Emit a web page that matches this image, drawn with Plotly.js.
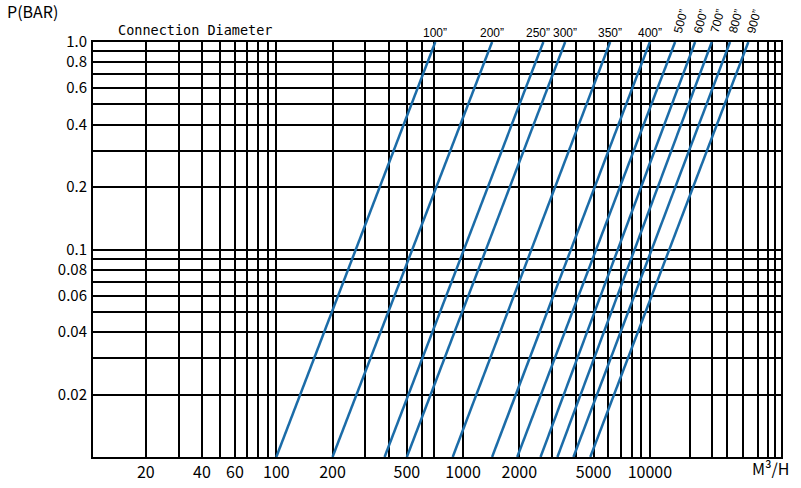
<!DOCTYPE html>
<html>
<head>
<meta charset="utf-8">
<script src="https://cdn.plot.ly/plotly-3.0.1.min.js"></script>
<style>html,body{margin:0;padding:0;background:#fff;}#chart{width:801px;height:488px;}</style>
</head>
<body>
<div id="chart"></div>
<script>
// Connection diameters (series names)
const diameters = ['100”', '200”', '250”', '300”', '350”', '400”', '500”', '600”', '700”', '800”', '900”'];
// Flow (M³/H) where each line meets P = 0.01 bar (bottom) and P = 1.0 bar (top)
const flowAtLowP = [100, 200, 380, 500, 880, 1430, 1950, 2600, 3200, 3900, 4800];
const flowAtHighP = [710, 1430, 2690, 3520, 6130, 10000, 13650, 17470, 21460, 26880, 33680];
const pressureEnds = [0.01, 1.0];

// Grid values (as drawn) and tick labels
const xGrid = [20, 30, 40, 50, 60, 70, 80, 90, 100, 200, 300, 400, 500, 600, 700, 1000,
  2000, 3000, 4000, 5000, 6000, 7000, 8000, 9000, 10000, 16400, 21500, 26000, 31700, 38100, 43100, 46800];
const xLabeled = [20, 40, 60, 100, 200, 500, 1000, 2000, 5000, 10000];
const yGrid = [0.02, 0.03, 0.04, 0.05, 0.06, 0.07, 0.08, 0.09, 0.1, 0.2, 0.3, 0.4, 0.5, 0.6, 0.7, 0.8, 0.9, 1.0];
const yLabels = {1.0: '1.0', 0.8: '0.8', 0.6: '0.6', 0.4: '0.4', 0.2: '0.2', 0.1: '0.1', 0.08: '0.08', 0.06: '0.06', 0.04: '0.04', 0.02: '0.02'};

const lineColor = '#1b6ca8';
const traces = diameters.map((d, i) => ({
  type: 'scatter', mode: 'lines', name: d,
  x: [flowAtLowP[i], flowAtHighP[i]],
  y: pressureEnds,
  line: {color: lineColor, width: 2.5},
  hoverinfo: 'name+x+y'
}));

const cjk = '"Noto Sans CJK SC", "DejaVu Sans", sans-serif';
const annotations = [];
diameters.forEach((d, i) => {
  const rotated = i >= 6;
  annotations.push({
    xref: 'x', yref: 'paper',
    x: Math.log10(flowAtHighP[i]),
    y: rotated ? 1.05 : 1.022,
    xshift: rotated ? 6 : (i === 2 ? -5 : 0),
    text: d, showarrow: false,
    textangle: rotated ? -75 : 0,
    font: {family: '"Liberation Sans", Arial, sans-serif', size: 12, color: '#000'},
    xanchor: 'center', yanchor: 'middle'
  });
});
annotations.push({xref: 'paper', yref: 'paper', x: -0.128, y: 1.075, xanchor: 'left', yanchor: 'middle',
  text: 'P(BAR)', showarrow: false, font: {family: cjk, size: 16, color: '#000'}});
annotations.push({xref: 'paper', yref: 'paper', x: 0.148, y: 1.03, xanchor: 'center', yanchor: 'middle',
  text: 'Connection Diameter', showarrow: false, font: {family: '"DejaVu Sans Mono", monospace', size: 13.5, color: '#000'}});
annotations.push({xref: 'paper', yref: 'paper', x: 0.985, y: -0.026, xanchor: 'center', yanchor: 'middle',
  text: 'M³/H', showarrow: false, font: {family: cjk, size: 16, color: '#000'}});

const axisCommon = {
  type: 'log', showgrid: true, gridcolor: '#000', gridwidth: 2,
  showline: true, mirror: true, linecolor: '#000', linewidth: 2,
  ticks: '', zeroline: false, tickmode: 'array',
  tickfont: {family: cjk, size: 16, color: '#000'}
};

const layout = {
  width: 801, height: 488,
  margin: {l: 93, r: 20, t: 42, b: 31},
  paper_bgcolor: '#fff', plot_bgcolor: '#fff',
  showlegend: false,
  xaxis: Object.assign({}, axisCommon, {
    range: [1.0185, 4.7023],
    tickvals: xGrid,
    ticktext: xGrid.map(v => xLabeled.includes(v) ? String(v) : '')
  }),
  yaxis: Object.assign({}, axisCommon, {
    range: [-2, 0],
    tickvals: yGrid,
    ticktext: yGrid.map(v => yLabels[v] || ''),
    ticklabelstandoff: 1,
    tickfont: {family: cjk, size: 15, color: '#000'}
  }),
  annotations: annotations
};

Plotly.newPlot('chart', traces, layout, {displayModeBar: false, staticPlot: true});
</script>
</body>
</html>
